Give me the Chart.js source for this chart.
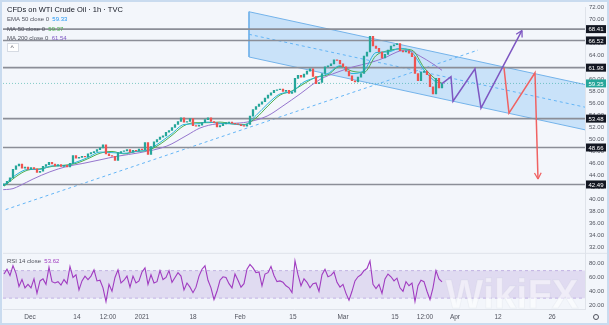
<!DOCTYPE html>
<html>
<head>
<meta charset="utf-8">
<script src="https://cdn.jsdelivr.net/npm/chart.js@4.4.1/dist/chart.umd.min.js"></script>
<style>
  html, body { margin: 0; padding: 0; background: #f3f6fb; }
  #wrap { width: 609px; height: 325px; }
</style>
</head>
<body>
<div id="wrap"><canvas id="chart" width="609" height="325"></canvas></div>
<script>
// closes, one candle per slot (index = slot on the time axis)
const firstOpen = 42.3;
const closes = [
  42.6, 43.0, 43.6, 45.0, 45.6, 45.9, 45.2, 45.4, 45.0, 45.3,
  45.1, 44.5, 44.7, 45.5, 45.8, 46.2, 45.9, 45.6, 45.8, 45.5,
  45.7, 45.4, 46.0, 47.3, 46.9, 47.0, 47.2, 47.1, 47.6, 47.8,
  48.0, 48.3, 48.6, 49.1, 47.6, 47.3, 47.2, 46.5, 47.8, 48.0,
  48.1, 48.3, 47.9, 48.2, 48.1, 48.4, 48.3, 49.5, 47.5, 48.8,
  49.6, 50.0, 50.4, 50.6, 51.2, 51.5, 52.0, 52.5, 53.0, 53.6,
  52.9, 53.0, 53.5, 52.3, 52.2, 52.4, 52.8, 53.3, 53.6, 53.0,
  52.8, 52.1, 52.3, 52.6, 52.8, 52.9, 52.7, 52.6, 52.5, 52.3,
  52.2, 52.5, 53.9, 55.0, 55.5, 55.9, 56.3, 56.9, 57.4, 57.8,
  58.2, 58.3, 58.4, 58.0, 58.2, 57.7, 57.9, 60.2, 60.7, 60.4,
  60.9, 61.4, 61.8, 60.5, 59.3, 59.5, 61.0, 62.1, 62.3, 62.6,
  63.3, 63.2, 62.6, 62.1, 61.4, 60.6, 59.8, 59.6, 60.4, 61.0,
  63.9, 64.6, 67.2, 65.6, 65.2, 64.6, 63.6, 64.2, 64.9, 65.6,
  65.8, 66.0, 64.8, 64.6, 64.8, 64.4, 63.8, 61.0, 59.8, 61.2,
  61.4, 60.8, 58.8, 57.6, 60.2, 58.6, 59.35
];

const rsiValues = [
  65, 72, 63, 77, 66, 47, 57, 45, 50, 45,
  58, 37, 55, 58, 50, 75, 54, 52, 54, 49,
  57, 51, 76, 60, 64, 42, 55, 62, 57, 62,
  71, 55, 56, 45, 25, 50, 40, 60, 71, 52,
  56, 62, 46, 62, 52, 55, 68, 74, 50, 64,
  52, 54, 70, 57, 60, 70, 53, 60, 67, 62,
  42, 52, 46, 38, 46, 62, 72, 77, 56, 45,
  28, 40, 56, 61, 60, 51, 45, 65, 56, 46,
  51, 72, 79, 74, 67, 68, 48, 65, 67, 76,
  63, 54, 55, 53, 48, 45, 38, 84, 64, 48,
  58, 53, 45, 51, 52, 40, 64, 72, 61, 63,
  68, 53, 46, 50, 37, 27, 40, 55, 61, 64,
  70, 73, 84, 50, 44, 50, 37, 58, 65, 61,
  55, 59, 45, 40, 54, 48, 52, 25, 48, 56,
  54, 40, 28, 45, 70, 58, 53.62
];

// moving averages
const maSlots = [0, 4, 8, 12, 16, 20, 24, 28, 32, 36, 40, 44, 48, 52, 56, 60, 64, 68, 72, 76,
  80, 84, 88, 92, 96, 100, 104, 108, 112, 116, 120, 124, 128, 132, 136, 140, 144, 146];
const ema50 = [42.4, 44.1, 45.0, 45.0, 45.6, 45.6, 46.2, 47.0, 47.9, 47.8, 47.7, 48.0, 48.3, 49.5, 51.0,
  52.5, 52.6, 52.9, 52.7, 52.6, 52.4, 54.0, 56.0, 57.6, 58.0, 59.6, 60.3, 61.0, 62.3, 61.0, 61.5,
  64.5, 64.6, 65.2, 64.5, 61.6, 59.6, 59.33];
const ma50 = [42.2, 43.8, 44.9, 45.1, 45.5, 45.7, 46.0, 46.8, 47.7, 48.0, 47.6, 48.0, 48.2, 49.2, 50.7,
  52.3, 52.8, 52.8, 52.9, 52.6, 52.5, 53.6, 55.6, 57.4, 58.1, 59.3, 60.4, 60.8, 62.2, 61.4, 61.2,
  64.0, 64.8, 65.1, 64.9, 62.0, 60.0, 59.37];
const ma200Slots = [-1.3, 3, 5.3, 9.7, 15.3, 21, 26.3, 32, 37.7, 45.3, 54.3, 61, 65.3, 71, 76.3, 81,
  87.7, 93, 98.7, 105.3, 111, 116.3, 122, 127.7, 131, 134.3, 138.7, 143, 146];
const ma200 = [41.6, 41.8, 42.3, 43.4, 44.6, 45.5, 46.0, 46.6, 47.2, 47.8, 48.9, 50.7, 51.9, 52.6, 52.7,
  52.9, 53.9, 55.6, 57.6, 60.0, 61.2, 62.1, 62.8, 63.8, 64.6, 64.9, 63.9, 62.6, 61.54];

// drawings
const levels = [68.41, 66.52, 61.98, 53.48, 48.66, 42.49];
const lastPrice = 59.35;
const channelSlots = [81.67, 193.67];
const channelTop = [71.31, 59.16];
const channelMid = [67.54, 55.39];
const channelBot = [63.76, 51.61];
const trendSlots = [-1.33, 158];
const trendVals = [37.98, 64.91];
const bullSlots = [146, 149, 149.67, 157, 159, 172.67];
const bullVals = [59.33, 60.48, 56.37, 61.79, 55.22, 68.19];
const bearSlots = [166.67, 168.33, 177, 178];
const bearVals = [61.95, 54.4, 61.13, 43.4];

// axes
const priceTicks = [32, 34, 36, 38, 40, 42, 44, 46, 48, 50, 52, 54, 56, 58, 60, 62, 64, 66, 68, 70, 72];
const rsiTicks = [20, 40, 60, 80];
const timeSlots = [8.67, 24.33, 34.67, 46, 63, 78.67, 96.33, 113, 130.33, 140.33, 150.33, 164.67, 182.67];
const timeLabels = ['Dec', '14', '12:00', '2021', '18', 'Feb', '15', 'Mar', '15', '12:00', 'Apr', '12', '26'];

const X_MIN = -0.33, X_MAX = 193.67;
const UP = '#26a69a', DOWN = '#ef5350';
const FONT = '"Liberation Sans", Arial, sans-serif';

const pts = (xs, ys) => xs.map((x, i) => ({ x: x, y: ys[i] }));

const opens = closes.map((c, i) => (i === 0 ? firstOpen : closes[i - 1]));
const candleData = closes.map((c, i) => ({ x: i, y: [opens[i], c] }));
const candleColors = closes.map((c, i) => (c >= opens[i] ? UP : DOWN));

function flatLine(v, axis, color, width, dash, order) {
  return {
    type: 'line', yAxisID: axis, order: order,
    data: [{ x: X_MIN, y: v }, { x: X_MAX, y: v }],
    borderColor: color, borderWidth: width, borderDash: dash || [],
    pointRadius: 0, fill: false
  };
}

const datasets = [
  // channel
  { type: 'line', yAxisID: 'y', order: 20, data: pts(channelSlots, channelTop),
    borderColor: '#74b3ea', borderWidth: 1, pointRadius: 0,
    fill: '+1', backgroundColor: 'rgba(33,150,243,0.2)' },
  { type: 'line', yAxisID: 'y', order: 19, data: pts(channelSlots, channelBot),
    borderColor: '#74b3ea', borderWidth: 1, pointRadius: 0, fill: false },
  { type: 'line', yAxisID: 'y', order: 18, data: [{ x: channelSlots[0], y: channelTop[0] }, { x: channelSlots[0], y: channelBot[0] }],
    borderColor: '#74b3ea', borderWidth: 1, pointRadius: 0, fill: false },
  { type: 'line', yAxisID: 'y', order: 17, data: pts(channelSlots, channelMid),
    borderColor: '#64b5f6', borderWidth: 1, borderDash: [3, 3], pointRadius: 0, fill: false },
  // ascending trend line
  { type: 'line', yAxisID: 'y', order: 16, data: pts(trendSlots, trendVals),
    borderColor: '#64b5f6', borderWidth: 1, borderDash: [3, 3], pointRadius: 0, fill: false },
  // last price
  flatLine(lastPrice, 'y', 'rgba(38,166,154,0.55)', 1, [1, 2], 15),
  // levels
  ...levels.map(v => flatLine(v, 'y', '#8b8e97', 1.6, null, 14)),
  // RSI band
  { type: 'line', yAxisID: 'y2', order: 13, data: [{ x: X_MIN, y: 70 }, { x: X_MAX, y: 70 }],
    borderColor: 'rgba(149,117,205,0.45)', borderWidth: 1, borderDash: [3, 3], pointRadius: 0,
    fill: '+1', backgroundColor: 'rgba(149,117,205,0.2)' },
  { type: 'line', yAxisID: 'y2', order: 12, data: [{ x: X_MIN, y: 30 }, { x: X_MAX, y: 30 }],
    borderColor: 'rgba(149,117,205,0.45)', borderWidth: 1, borderDash: [3, 3], pointRadius: 0, fill: false },
  { type: 'line', yAxisID: 'y2', order: 3, data: rsiValues.map((v, i) => ({ x: i, y: v })),
    borderColor: '#a03cc0', borderWidth: 1.1, pointRadius: 0, fill: false },
  // moving averages
  { type: 'line', yAxisID: 'y', order: 9, data: pts(ma200Slots, ma200),
    borderColor: '#9575cd', borderWidth: 1, pointRadius: 0, fill: false, cubicInterpolationMode: 'monotone' },
  { type: 'line', yAxisID: 'y', order: 7, data: pts(maSlots, ma50),
    borderColor: '#4caf50', borderWidth: 1, pointRadius: 0, fill: false, cubicInterpolationMode: 'monotone' },
  { type: 'line', yAxisID: 'y', order: 6, data: pts(maSlots, ema50),
    borderColor: '#29b6d8', borderWidth: 1, pointRadius: 0, fill: false, cubicInterpolationMode: 'monotone' },
  // candles
  { type: 'bar', yAxisID: 'y', order: 5, data: candleData,
    backgroundColor: candleColors, borderWidth: 0, barThickness: 1.6 },
  // projections
  { type: 'line', yAxisID: 'y', order: 2, data: pts(bullSlots, bullVals), arrow: true,
    borderColor: '#7e57c2', borderWidth: 1.5, pointRadius: 0, fill: false, clip: false },
  { type: 'line', yAxisID: 'y', order: 1, data: pts(bearSlots, bearVals), arrow: true,
    borderColor: '#f06262', borderWidth: 1.5, pointRadius: 0, fill: false, clip: false }
];

function text(ctx, parts, x, y, size) {
  ctx.font = size + 'px ' + FONT;
  ctx.textBaseline = 'middle';
  ctx.textAlign = 'left';
  for (const [s, c] of parts) {
    ctx.fillStyle = c;
    ctx.fillText(s, x, y);
    x += ctx.measureText(s).width;
  }
}

const overlay = {
  id: 'overlay',
  beforeDraw(chart) {
    const ctx = chart.ctx;
    ctx.save();
    ctx.fillStyle = '#f3f6fb';
    ctx.fillRect(0, 0, chart.width, chart.height);
    ctx.restore();
  },
  afterDatasetsDraw(chart) {
    const ctx = chart.ctx;
    chart.data.datasets.forEach((ds, i) => {
      if (!ds.arrow) return;
      const p = chart.getDatasetMeta(i).data;
      const a = p[p.length - 2], b = p[p.length - 1];
      const ang = Math.atan2(b.y - a.y, b.x - a.x);
      ctx.save();
      ctx.strokeStyle = ds.borderColor;
      ctx.lineWidth = 1.3;
      ctx.beginPath();
      for (const d of [0.5, -0.5]) {
        ctx.moveTo(b.x, b.y);
        ctx.lineTo(b.x - 7 * Math.cos(ang + d), b.y - 7 * Math.sin(ang + d));
      }
      ctx.stroke();
      ctx.restore();
    });
  },
  afterDraw(chart) {
    const ctx = chart.ctx;
    const area = chart.chartArea;
    const y = chart.scales.y, y2 = chart.scales.y2;
    ctx.save();

    // watermark
    ctx.font = 'bold 40px ' + FONT;
    ctx.textAlign = 'center';
    ctx.textBaseline = 'middle';
    ctx.fillStyle = 'rgba(255,255,255,0.5)';
    ctx.strokeStyle = 'rgba(120,130,150,0.06)';
    ctx.lineWidth = 1;
    ctx.fillText('WikiFX', 512, 297);
    ctx.strokeText('WikiFX', 512, 297);

    // pane separator
    ctx.strokeStyle = '#dfe3ea';
    ctx.lineWidth = 1;
    ctx.beginPath();
    ctx.moveTo(area.left, y.bottom + 0.5);
    ctx.lineTo(chart.width, y.bottom + 0.5);
    ctx.stroke();

    // price boxes on the right axis
    ctx.font = '6px ' + FONT;
    ctx.textAlign = 'center';
    ctx.textBaseline = 'middle';
    const boxes = levels.map(v => [v, '#131722']).concat([[lastPrice, UP]]);
    for (const [v, c] of boxes) {
      const py = y.getPixelForValue(v);
      ctx.fillStyle = c;
      ctx.fillRect(area.right + 1, py - 4, 20, 8);
      ctx.fillStyle = '#ffffff';
      ctx.fillText(v.toFixed(2), area.right + 11, py + 0.5);
    }

    // legends
    text(ctx, [['CFDs on WTI Crude Oil · 1h · TVC', '#131722']], area.left + 4, 10, 7.5);
    text(ctx, [['EMA 50 close 0  ', '#50535e'], ['59.33', '#2196f3']], area.left + 4, 19.5, 6);
    text(ctx, [['MA 50 close 0  ', '#50535e'], ['59.37', '#4caf50']], area.left + 4, 29, 6);
    text(ctx, [['MA 200 close 0  ', '#50535e'], ['61.54', '#7e57c2']], area.left + 4, 38.5, 6);
    ctx.fillStyle = '#ffffff';
    ctx.strokeStyle = '#d6dbe3';
    ctx.fillRect(area.left + 4, 43, 11, 8);
    ctx.strokeRect(area.left + 4.5, 43.5, 11, 8);
    text(ctx, [['^', '#50535e']], area.left + 7.5, 48, 7);
    text(ctx, [['RSI 14 close  ', '#50535e'], ['53.62', '#a03cc0']], area.left + 4, y2.top + 8, 6);

    // settings icon
    ctx.strokeStyle = '#50535e';
    ctx.beginPath();
    ctx.arc(596, area.bottom + 8, 2.5, 0, Math.PI * 2);
    ctx.stroke();

    // frame
    ctx.strokeStyle = '#c9dbef';
    ctx.lineWidth = 2;
    ctx.strokeRect(1, 1, chart.width - 2, chart.height - 2);
    ctx.restore();
  }
};

new Chart(document.getElementById('chart'), {
  type: 'bar',
  data: { datasets: datasets },
  plugins: [overlay],
  options: {
    responsive: false,
    devicePixelRatio: 1,
    animation: false,
    layout: { padding: { left: 3, top: 3, right: 0, bottom: 0 } },
    plugins: { legend: { display: false }, tooltip: { enabled: false } },
    scales: {
      x: {
        type: 'linear', min: X_MIN, max: X_MAX, offset: false,
        grid: { display: false, drawTicks: false },
        border: { color: '#dfe3ea' },
        afterBuildTicks: s => { s.ticks = timeSlots.map(v => ({ value: v })); },
        afterFit: s => { s.height = 16; },
        ticks: {
          autoSkip: false, maxRotation: 0, padding: 4,
          color: '#50535e', font: { size: 6.5, family: FONT },
          callback: (v, i) => timeLabels[i]
        }
      },
      y: {
        position: 'right', stack: 'pane', stackWeight: 4.37,
        min: 31.08, max: 72,
        grid: { display: false, drawTicks: false },
        border: { color: '#dfe3ea' },
        afterBuildTicks: s => { s.ticks = priceTicks.map(v => ({ value: v })); },
        afterFit: s => { s.width = 24; },
        ticks: {
          autoSkip: false, padding: 4, color: '#50535e', font: { size: 6, family: FONT },
          callback: v => v.toFixed(2)
        }
      },
      y2: {
        position: 'right', stack: 'pane', stackWeight: 1,
        min: 14.3, max: 95.7,
        grid: { display: false, drawTicks: false },
        border: { color: '#dfe3ea' },
        afterBuildTicks: s => { s.ticks = rsiTicks.map(v => ({ value: v })); },
        afterFit: s => { s.width = 24; },
        ticks: {
          autoSkip: false, padding: 4, color: '#50535e', font: { size: 6, family: FONT },
          callback: v => v.toFixed(2)
        }
      }
    }
  }
});
</script>
</body>
</html>
